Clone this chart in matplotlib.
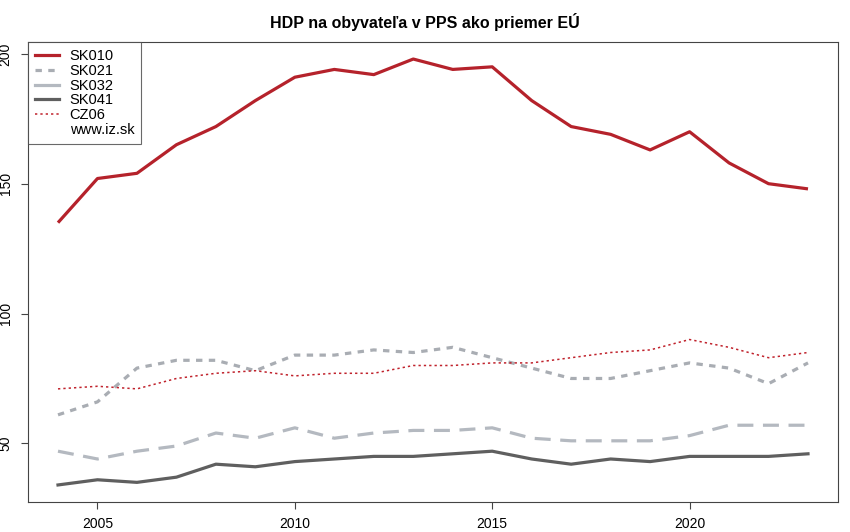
import matplotlib
matplotlib.use("Agg")
import matplotlib.pyplot as plt
from matplotlib.lines import Line2D

plt.rcParams['font.family'] = ['Liberation Sans', 'DejaVu Sans']

years = list(range(2004, 2024))
sk010 = [135, 152, 154, 165, 172, 182, 191, 194, 192, 198, 194, 195, 182, 172, 169, 163, 170, 158, 150, 148]
sk021 = [61, 66, 79, 82, 82, 78, 84, 84, 86, 85, 87, 83, 79, 75, 75, 78, 81, 79, 73, 81]
sk032 = [47, 44, 47, 49, 54, 52, 56, 52, 54, 55, 55, 56, 52, 51, 51, 51, 53, 57, 57, 57]
sk041 = [34, 36, 35, 37, 42, 41, 43, 44, 45, 45, 46, 47, 44, 42, 44, 43, 45, 45, 45, 46]
cz06 = [71, 72, 71, 75, 77, 78, 76, 77, 77, 80, 80, 81, 81, 83, 85, 86, 90, 87, 83, 85]
xticks = [2005, 2010, 2015, 2020]
yticks = [50, 100, 150, 200]
title = "HDP na obyvateľa v PPS ako priemer EÚ"

fig = plt.figure(figsize=(8.5, 5.32), dpi=100)
ax = fig.add_axes([28 / 850, 1 - 502 / 532, 810 / 850, 460 / 532])

ax.plot(years, sk010, color="#b5222b", lw=2.3, solid_capstyle="butt")
ax.plot(years, sk021, color="#a9adb3", lw=2.3, dashes=(2.0, 2.0))
ax.plot(years, sk032, color="#b4b9c0", lw=2.3, dashes=(5.0, 3.0))
ax.plot(years, sk041, color="#5f5f5f", lw=2.3)
ax.plot(years, cz06, color="#c0222c", lw=1.1, dashes=(1.5, 2.0))

# R style 4% padding
ymin, ymax = min(sk041), max(sk010)
pad = (ymax - ymin) * 0.04
ax.set_ylim(ymin - pad, ymax + pad)
xpad = (years[-1] - years[0]) * 0.04
ax.set_xlim(years[0] - xpad, years[-1] + xpad)

ax.set_xticks(xticks)
ax.set_xticklabels([str(t) for t in xticks], fontsize=10)
ax.set_yticks(yticks)
ax.set_yticklabels([str(t) for t in yticks], fontsize=10, rotation=90, va="center")
ax.tick_params(axis="both", direction="out", length=5, width=0.8, color="#444444")
ax.tick_params(axis="x", pad=5.5)
ax.tick_params(axis="y", pad=6)
for s in ax.spines.values():
    s.set_color("#444444")
    s.set_linewidth(0.8)

fig.text(0.5, 1 - 22 / 532, title, ha="center", va="center", fontsize=11.5, fontweight="bold")

handles = [
    Line2D([], [], color="#b5222b", lw=2.3),
    Line2D([], [], color="#a9adb3", lw=2.3, dashes=(2.0, 2.0)),
    Line2D([], [], color="#b4b9c0", lw=2.3),
    Line2D([], [], color="#5f5f5f", lw=2.3),
    Line2D([], [], color="#c0222c", lw=1.1, dashes=(1.5, 2.0)),
    Line2D([], [], color="none"),
]
labels = ["SK010", "SK021", "SK032", "SK041", "CZ06", "www.iz.sk"]
leg = ax.legend(handles, labels, loc="upper left", bbox_to_anchor=(0, 1), fontsize=10.5,
                frameon=True, fancybox=False, borderpad=0.5, labelspacing=0.05,
                handlelength=1.65, handletextpad=0.7, borderaxespad=0)
leg.get_frame().set_edgecolor("#444444")
leg.get_frame().set_linewidth(0.8)

fig.savefig("out.png", dpi=100)
